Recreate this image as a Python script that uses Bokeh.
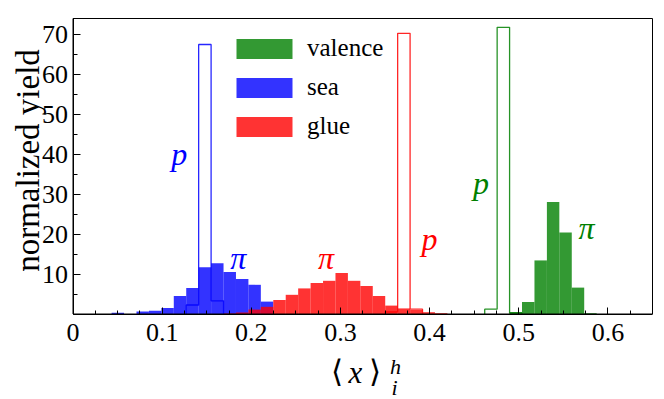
import numpy as np
from bokeh.plotting import figure
from bokeh.models import FixedTicker, Label, Legend, LegendItem, BoxAnnotation
from bokeh.embed import file_html
from bokeh.resources import INLINE

# ---- data ----
bin_start = 0.0433      # left edge of the first common bin
bin_width = 0.01395     # common bin width

# sea quarks, pion (filled) - first bin index, then heights
sea_pi_k0 = 0
sea_pi = [0.3, 0.0, 0.6, 0.8, 1.5, 4.5, 6.5, 11.7, 12.7, 10.5, 8.75, 7.3, 3.1]
# sea quarks, proton (outline)
sea_p_k0 = 6
sea_p = [2.25, 67.4, 3.3]
# glue, pion (filled)
glue_pi_k0 = 9
glue_pi = [0.1, 0.4, 1.1, 1.8, 3.5, 4.8, 6.4, 7.75, 8.3, 10.25, 8.3, 7.0, 4.5,
           2.1, 1.4, 1.0, 0.45, 0.2]
# glue, proton (outline)
glue_p_k0 = 22
glue_p = [0.5, 70.2, 1.2]
# valence, pion (filled)
val_pi_k0 = 32
val_pi = [0.5, 3.0, 13.4, 28.0, 20.4, 6.6, 0.2]
# valence, proton (outline)
val_p_k0 = 30
val_p = [1.2, 71.7, 0.2]

x_lim = (0, 0.65)
y_lim = (0, 73.9)
x_ticks = [0, 0.1, 0.2, 0.3, 0.4, 0.5, 0.6]
x_tick_labels = ["0", "0.1", "0.2", "0.3", "0.4", "0.5", "0.6"]
x_minor = [0.025, 0.05, 0.075, 0.125, 0.15, 0.175, 0.225, 0.25, 0.275, 0.325,
           0.35, 0.375, 0.425, 0.45, 0.475, 0.525, 0.55, 0.575, 0.625]
y_ticks = [10, 20, 30, 40, 50, 60, 70]
y_minor = [5, 15, 25, 35, 45, 55, 65]

series_names = ["valence", "sea", "glue"]
colors = {"valence": "#008000", "sea": "#0000ff", "glue": "#ff0000"}

SERIF = "Liberation Serif"

# ---- canvas geometry: frame spans the whole canvas, axes sit at fixed locations
W, H = 664, 399
PLOT_L, PLOT_R, PLOT_T, PLOT_B = 72.5, 652.0, 18.0, 313.5   # px of the axes box
sx = (PLOT_R - PLOT_L) / (x_lim[1] - x_lim[0])
sy = (PLOT_B - PLOT_T) / (y_lim[1] - y_lim[0])
x_range = (x_lim[0] - PLOT_L / sx, x_lim[1] + (W - PLOT_R) / sx)
y_range = (y_lim[0] - (H - PLOT_B) / sy, y_lim[1] + PLOT_T / sy)


def edges(k0, counts):
    left = [bin_start + (k0 + i) * bin_width for i in range(len(counts))]
    right = [l + bin_width for l in left]
    return left, right


def bars(p, k0, counts, color):
    left, right = edges(k0, counts)
    keep = [i for i, c in enumerate(counts) if c > 0]
    return p.quad(left=[left[i] for i in keep], right=[right[i] for i in keep],
                  bottom=0, top=[counts[i] for i in keep],
                  fill_color=color, fill_alpha=0.8, line_color=None)


def step(p, k0, counts, color):
    left, right = edges(k0, counts)
    xs = [left[0]]
    ys = [0]
    for l, r, c in zip(left, right, counts):
        xs += [l, r]
        ys += [c, c]
    xs.append(right[-1])
    ys.append(0)
    return p.line(xs, ys, line_color=color, line_alpha=0.85, line_width=1.3)


p = figure(width=W, height=H, x_range=x_range, y_range=y_range,
           output_backend="svg", toolbar_location=None, min_border=0)

r_val = bars(p, val_pi_k0, val_pi, colors["valence"])
r_sea = bars(p, sea_pi_k0, sea_pi, colors["sea"])
r_glue = bars(p, glue_pi_k0, glue_pi, colors["glue"])
step(p, sea_p_k0, sea_p, colors["sea"])
step(p, glue_p_k0, glue_p, colors["glue"])
step(p, val_p_k0, val_p, colors["valence"])

# axes
p.xgrid.visible = False
p.ygrid.visible = False
p.outline_line_color = None
p.add_layout(BoxAnnotation(left=x_lim[0], right=x_lim[1], bottom=y_lim[0], top=y_lim[1],
                           fill_alpha=0, fill_color=None, line_color="black",
                           line_width=1, line_alpha=1))
p.xaxis.fixed_location = y_lim[0]
p.yaxis.fixed_location = x_lim[0]
p.xaxis.bounds = x_lim
p.yaxis.bounds = y_lim
p.xaxis.ticker = FixedTicker(ticks=x_ticks, minor_ticks=x_minor)
p.xaxis.major_label_overrides = dict(zip(x_ticks, x_tick_labels))
p.yaxis.ticker = FixedTicker(ticks=y_ticks, minor_ticks=y_minor)
for ax in (p.xaxis, p.yaxis):
    ax.major_tick_in = 7
    ax.major_tick_out = 0
    ax.minor_tick_in = 4
    ax.minor_tick_out = 0
    ax.axis_line_color = "black"
    ax.major_tick_line_color = "black"
    ax.minor_tick_line_color = "black"
    ax.major_label_text_font = SERIF
    ax.major_label_text_font_size = "26px"
    ax.major_label_text_color = "black"
p.xaxis.major_label_standoff = 10
p.yaxis.major_label_standoff = 5


def px_x(px):
    return x_lim[0] + (px - PLOT_L) / sx


def px_y(py):
    return y_lim[0] + (PLOT_B - py) / sy


# axis titles
p.add_layout(Label(x=px_x(27), y=px_y(160), text="normalized yield", angle=np.pi / 2,
                   text_align="center", text_baseline="middle",
                   text_font=SERIF, text_font_size="33px", text_color="black"))
p.add_layout(Label(x=px_x(336), y=px_y(371), text="⟨", text_align="center",
                   text_baseline="middle", text_font=SERIF,
                   text_font_size="31px", text_color="black"))
p.add_layout(Label(x=px_x(355), y=px_y(372), text="x", text_align="center",
                   text_baseline="alphabetic", text_font=SERIF, text_font_style="italic",
                   text_font_size="31px", text_color="black"))
p.add_layout(Label(x=px_x(374), y=px_y(371), text="⟩", text_align="center",
                   text_baseline="middle", text_font=SERIF,
                   text_font_size="31px", text_color="black"))
p.add_layout(Label(x=px_x(395), y=px_y(366), text="h", text_align="center",
                   text_baseline="alphabetic", text_font=SERIF, text_font_style="italic",
                   text_font_size="22px", text_color="black"))
p.add_layout(Label(x=px_x(394), y=px_y(387), text="i", text_align="center",
                   text_baseline="alphabetic", text_font=SERIF, text_font_style="italic",
                   text_font_size="22px", text_color="black"))

# p / pi annotations
annots = [
    ("p", 0.1193, 40.0, colors["sea"]),
    ("π", 0.1853, 14.1, colors["sea"]),
    ("π", 0.2839, 14.1, colors["glue"]),
    ("p", 0.4000, 18.75, colors["glue"]),
    ("p", 0.4575, 32.75, colors["valence"]),
    ("π", 0.5761, 21.4, colors["valence"]),
]
for t, x, y, c in annots:
    p.add_layout(Label(x=x, y=y, text=t, text_align="center",
                       text_baseline="alphabetic", text_font=SERIF,
                       text_font_style="italic", text_font_size="32px",
                       text_color=c))

legend = Legend(items=[LegendItem(label=series_names[0], renderers=[r_val]),
                       LegendItem(label=series_names[1], renderers=[r_sea]),
                       LegendItem(label=series_names[2], renderers=[r_glue])],
                location=(229, 259))
legend.background_fill_alpha = 0
legend.border_line_color = None
legend.padding = 0
legend.margin = 0
legend.spacing = 11
legend.glyph_width = 70
legend.glyph_height = 25
legend.label_standoff = 8
legend.label_text_font = SERIF
legend.label_text_font_size = "25px"
legend.label_text_color = "black"
p.add_layout(legend)

open("out.html", "w").write(file_html(p, INLINE))
